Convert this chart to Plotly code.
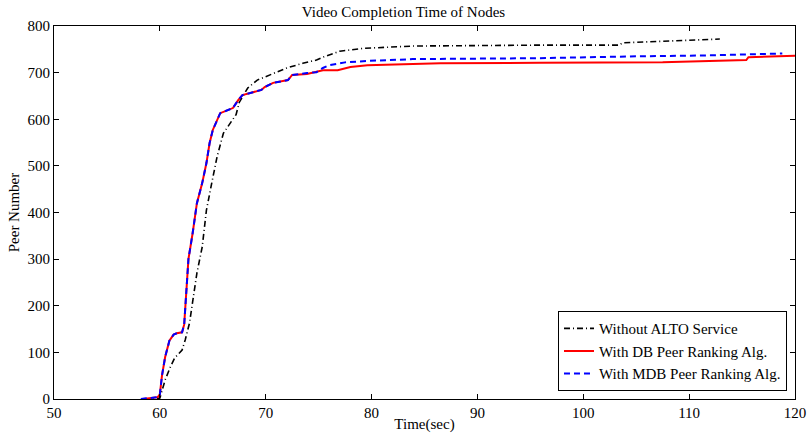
import plotly.graph_objects as go

# Completion time (sec) vs. number of peers that finished the video
time_no_alto = [58.5, 59.5, 60.0, 60.5, 61.0, 61.4, 62.1, 62.4, 62.8, 63.1, 63.5, 64.0,
                64.4, 64.9, 65.4, 66.0, 66.8, 67.2, 67.5, 67.8, 68.3, 69.2, 70.4, 72.0,
                73.5, 74.8, 75.4, 77.0, 79.2, 83.9, 95.9, 103.4, 103.7, 108.0, 112.9]
peers_no_alto = [0, 0, 2, 41, 69, 88, 105, 127, 163, 212, 270, 326,
                 405, 463, 519, 570, 598, 610, 636, 648, 667, 684, 695, 710,
                 720, 727, 733, 746, 752, 757, 759, 759, 764, 767, 772]

time_db = [58.4, 59.3, 59.8, 60.0, 60.2, 60.5, 60.9, 61.3, 61.6, 62.1, 62.3, 62.5,
           62.7, 63.1, 63.5, 64.0, 64.4, 64.7, 65.0, 65.7, 66.2, 66.9, 67.4, 67.8,
           68.8, 69.6, 69.9, 70.7, 72.1, 72.5, 73.9, 74.8, 75.4, 76.8, 78.0, 79.6,
           82.4, 86.5, 95.9, 107.5, 115.4, 115.6, 120.0]
peers_db = [0, 2, 4, 10, 50, 90, 125, 138, 141, 143, 160, 230,
            300, 356, 420, 463, 506, 549, 577, 613, 618, 624, 641, 652,
            658, 663, 669, 678, 684, 695, 697, 701, 705, 705, 712, 716,
            718, 720, 721, 722, 727, 733, 736]

time_mdb = [58.2, 59.3, 59.8, 60.0, 60.2, 60.5, 60.9, 61.3, 61.6, 62.1, 62.3, 62.5,
            62.7, 63.1, 63.5, 64.0, 64.4, 64.7, 65.0, 65.7, 66.2, 66.9, 67.4, 67.8,
            68.8, 69.6, 69.9, 70.7, 72.1, 72.5, 73.9, 74.8, 75.4, 76.0, 77.5, 79.6,
            83.9, 95.9, 105.3, 112.0, 118.8]
peers_mdb = [0, 2, 4, 10, 50, 90, 125, 138, 141, 143, 160, 230,
             300, 356, 420, 463, 506, 549, 577, 613, 618, 624, 641, 652,
             658, 663, 669, 678, 684, 695, 699, 701, 710, 716, 722, 725,
             729, 731, 735, 737, 741]

x_ticks = [50, 60, 70, 80, 90, 100, 110, 120]
y_ticks = [0, 100, 200, 300, 400, 500, 600, 700, 800]

FONT = "Liberation Serif"
TXT = dict(family=FONT, size=15, color="black")

fig = go.Figure()
fig.add_trace(go.Scatter(x=time_no_alto, y=peers_no_alto, mode="lines",
                         name="Without ALTO Service",
                         line=dict(color="black", width=1.6, dash="6px,3px,1px,3px")))
fig.add_trace(go.Scatter(x=time_db, y=peers_db, mode="lines",
                         name="With DB Peer Ranking Alg.",
                         line=dict(color="#ff0000", width=2)))
fig.add_trace(go.Scatter(x=time_mdb, y=peers_mdb, mode="lines",
                         name="With MDB Peer Ranking Alg.",
                         line=dict(color="#0000ff", width=2, dash="6px,4px")))

axis_common = dict(showgrid=False, zeroline=False, showline=True, linecolor="black",
                   linewidth=1, mirror="ticks", ticks="inside", ticklen=5,
                   tickcolor="black", tickfont=TXT, automargin=False)

fig.update_xaxes(range=[50, 120], tickvals=x_ticks,
                 title=dict(text="Time(sec)", font=TXT, standoff=0),
                 **axis_common)
fig.update_yaxes(range=[0, 800], tickvals=y_ticks,
                 title=dict(text="Peer Number", font=TXT, standoff=4),
                 **axis_common)

fig.update_layout(
    template="none",
    width=807, height=433,
    margin=dict(l=54, r=12, t=26, b=34, autoexpand=False),
    paper_bgcolor="white", plot_bgcolor="white",
    font=TXT,
    title=dict(text="Video Completion Time of Nodes", x=0.5, xanchor="center",
               y=0.985, yanchor="top", font=TXT),
    legend=dict(x=0.9892, y=0.021, xanchor="right", yanchor="bottom",
                bgcolor="white", bordercolor="black", borderwidth=1,
                font=TXT, tracegroupgap=0, itemwidth=30),
    showlegend=True,
)

fig.write_html("out.html")
